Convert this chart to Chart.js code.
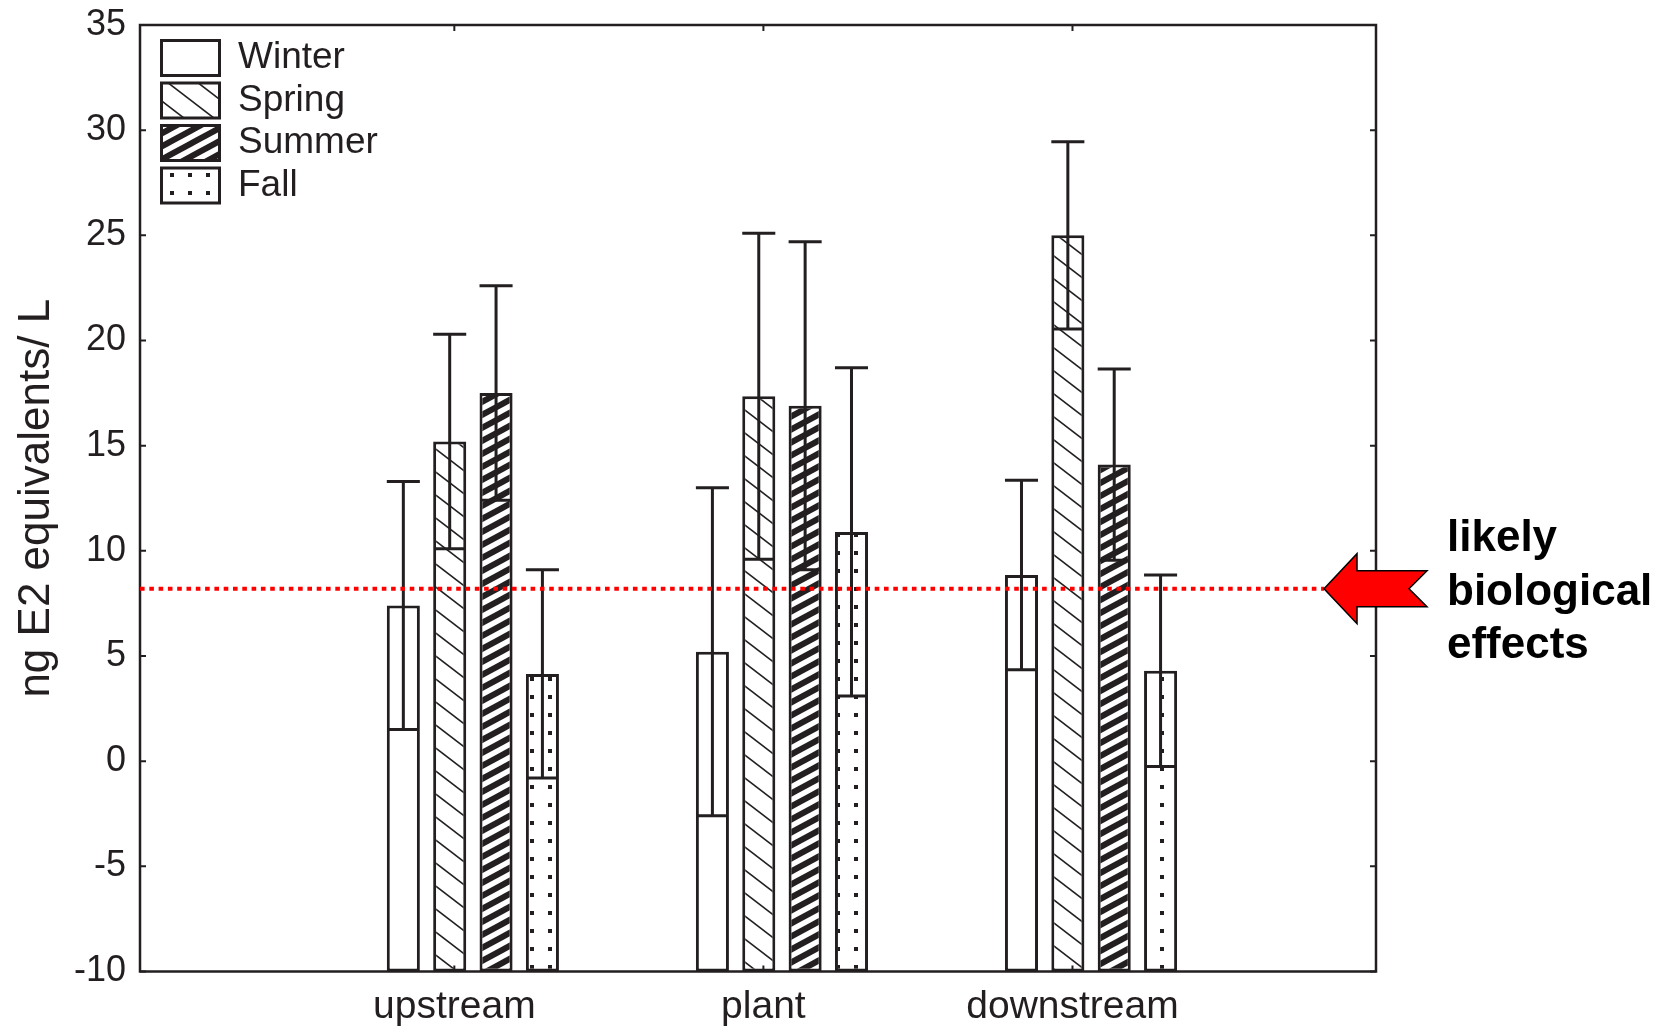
<!DOCTYPE html>
<html>
<head>
<meta charset="utf-8">
<script src="https://cdn.jsdelivr.net/npm/chart.js@4.4.1/dist/chart.umd.min.js"></script>
<style>
  html, body { margin: 0; padding: 0; background: #fff; }
</style>
</head>
<body>
<canvas id="chart" width="1670" height="1029"></canvas>
<script>
// sampling sites and seasons
const groups = ['upstream', 'plant', 'downstream'];
const groupPos = [1, 2, 3];
const seasons = ['Winter', 'Spring', 'Summer', 'Fall'];

// mean ± error (ng E2 equivalents / L)
const winterMean = [7.4, 5.2, 8.85];
const winterErr  = [5.9, 7.8, 4.5];
const springMean = [15.2, 17.35, 25.0];
const springErr  = [5.1, 7.75, 4.45];
const summerMean = [17.5, 16.9, 14.1];
const summerErr  = [5.1, 7.8, 4.55];
const fallMean   = [4.15, 10.9, 4.3];
const fallErr    = [4.95, 7.8, 4.55];

const threshold = 8.2;
const thresholdLabel = ['likely', 'biological', 'effects'];
const yTitle = 'ng E2 equivalents/ L';

const INK = '#231f20';
const FONT = "'Liberation Sans', Arial, Helvetica, sans-serif";
Chart.defaults.font.family = FONT;
Chart.defaults.color = INK;

// hatch fills
function makePattern(w, h, draw) {
  const c = document.createElement('canvas');
  c.width = w; c.height = h;
  const g = c.getContext('2d');
  g.fillStyle = '#fff';
  g.fillRect(0, 0, w, h);
  draw(g, w, h);
  return g.createPattern(c, 'repeat');
}
const springFill = makePattern(30, 23, (g, w, h) => {
  g.strokeStyle = INK; g.lineWidth = 1.6;
  for (let k = -1; k <= 1; k++) {
    g.beginPath(); g.moveTo(-w, -h + k * h); g.lineTo(2 * w, 2 * h + k * h); g.stroke();
  }
});
const summerFill = makePattern(24, 13, (g, w, h) => {
  g.strokeStyle = INK; g.lineWidth = 6;
  for (let k = -1; k <= 2; k++) {
    g.beginPath(); g.moveTo(-w, h + k * h); g.lineTo(2 * w, -2 * h + k * h); g.stroke();
  }
});
const fallFill = makePattern(18, 18, (g) => {
  g.fillStyle = INK;
  g.fillRect(8, 11, 4, 4);
});

function series(label, mean, err, fill) {
  return {
    label: label,
    data: groupPos.map((x, i) => ({ x: x, y: mean[i] })),
    errors: err,
    backgroundColor: fill,
    borderColor: INK,
    borderWidth: 3,
    borderSkipped: false,
    base: -10,
    categoryPercentage: 0.6,
    barPercentage: 0.713,
    order: 1
  };
}

// error whiskers, drawn right after each bar dataset
const errorBarPlugin = {
  id: 'errorBars',
  afterDatasetDraw(chart, args) {
    const ds = chart.data.datasets[args.index];
    if (!ds.errors) return;
    const { ctx, scales: { y } } = chart;
    ctx.save();
    ctx.strokeStyle = INK;
    ctx.lineWidth = 3;
    args.meta.data.forEach((bar, i) => {
      const m = ds.data[i].y, e = ds.errors[i];
      const hi = y.getPixelForValue(m + e);
      const lo = y.getPixelForValue(m - e);
      const half = bar.width / 2;
      ctx.beginPath();
      ctx.moveTo(bar.x, lo); ctx.lineTo(bar.x, hi);
      ctx.moveTo(bar.x - half, hi); ctx.lineTo(bar.x + half, hi);
      ctx.moveTo(bar.x - half + 1.5, lo); ctx.lineTo(bar.x + half - 1.5, lo);
      ctx.stroke();
    });
    ctx.restore();
  }
};

// box frame with inward ticks
const framePlugin = {
  id: 'frame',
  afterDatasetsDraw(chart) {
    const { ctx, chartArea: a, scales: { x, y } } = chart;
    ctx.save();
    ctx.strokeStyle = INK;
    ctx.lineWidth = 2.5;
    ctx.strokeRect(a.left, a.top, a.right - a.left, a.bottom - a.top);
    ctx.lineWidth = 2;
    ctx.beginPath();
    y.ticks.forEach(t => {
      const p = y.getPixelForValue(t.value);
      ctx.moveTo(a.left, p); ctx.lineTo(a.left + 6, p);
      ctx.moveTo(a.right, p); ctx.lineTo(a.right - 6, p);
    });
    x.ticks.forEach(t => {
      const p = x.getPixelForValue(t.value);
      ctx.moveTo(p, a.top); ctx.lineTo(p, a.top + 6);
      ctx.moveTo(p, a.bottom); ctx.lineTo(p, a.bottom - 6);
    });
    ctx.stroke();
    ctx.restore();
  }
};

// red dotted threshold + arrow + note
const thresholdPlugin = {
  id: 'threshold',
  afterDatasetsDraw(chart) {
    const { ctx, chartArea: a, scales: { y } } = chart;
    const yy = y.getPixelForValue(threshold);
    const tip = a.right - 52;
    ctx.save();
    ctx.strokeStyle = '#ff0000';
    ctx.lineWidth = 4;
    ctx.setLineDash([4.6, 4.7]);
    ctx.beginPath(); ctx.moveTo(a.left, yy); ctx.lineTo(tip, yy); ctx.stroke();
    ctx.setLineDash([]);

    const back = a.right - 19, tail = a.right + 51, notch = a.right + 33;
    ctx.beginPath();
    ctx.moveTo(tip, yy);
    ctx.lineTo(back, yy - 35);
    ctx.lineTo(back, yy - 18);
    ctx.lineTo(tail, yy - 18);
    ctx.lineTo(notch, yy);
    ctx.lineTo(tail, yy + 18);
    ctx.lineTo(back, yy + 18);
    ctx.lineTo(back, yy + 35);
    ctx.closePath();
    ctx.fillStyle = '#ff0000';
    ctx.fill();
    ctx.lineWidth = 1.5;
    ctx.strokeStyle = '#000';
    ctx.stroke();

    ctx.fillStyle = '#000';
    ctx.font = 'bold 44px ' + FONT;
    ctx.textAlign = 'left';
    ctx.textBaseline = 'alphabetic';
    thresholdLabel.forEach((t, i) => ctx.fillText(t, a.right + 71, yy + 16 + (i - 1) * 53.5));
    ctx.restore();
  }
};

// put the in-plot legend a little inside the frame
const legendShift = {
  id: 'legendShift',
  afterLayout(chart) {
    if (chart.legend) {
      chart.legend.left = chart.chartArea.left + 16;
      chart.legend.top = chart.chartArea.top + 9;
    }
  }
};

new Chart(document.getElementById('chart'), {
  type: 'bar',
  data: {
    datasets: [
      series(seasons[0], winterMean, winterErr, '#ffffff'),
      series(seasons[1], springMean, springErr, springFill),
      series(seasons[2], summerMean, summerErr, summerFill),
      series(seasons[3], fallMean, fallErr, fallFill)
    ]
  },
  options: {
    responsive: false,
    animation: false,
    layout: { padding: { top: 25, right: 294, bottom: 0, left: 0 } },
    plugins: {
      tooltip: { enabled: false },
      legend: {
        position: 'chartArea',
        align: 'start',
        labels: {
          boxWidth: 58,
          boxHeight: 35,
          padding: 5.5,
          color: INK,
          font: { size: 37 }
        }
      }
    },
    scales: {
      x: {
        type: 'linear',
        offset: false,
        min: -0.077,
        max: 3.922,
        grid: { display: false, drawTicks: false, offset: false },
        border: { display: false },
        afterBuildTicks: s => { s.ticks = groupPos.map(v => ({ value: v - 0.06 })); },
        afterFit: s => { s.height = 57.5; },
        ticks: {
          autoSkip: false,
          maxRotation: 0,
          padding: 12,
          color: INK,
          font: { size: 39 },
          callback: (v, i) => groups[i]
        }
      },
      y: {
        min: -10,
        max: 35,
        grid: { display: false, drawTicks: false },
        border: { display: false },
        afterFit: s => { s.width = 140; s.paddingTop = 0; s.paddingBottom = 0; },
        ticks: {
          stepSize: 5,
          padding: 14,
          color: INK,
          font: { size: 36 }
        },
        title: {
          display: true,
          text: yTitle,
          color: INK,
          font: { size: 44 },
          padding: { top: 10, bottom: 0 }
        }
      }
    }
  },
  plugins: [errorBarPlugin, framePlugin, thresholdPlugin, legendShift]
});
</script>
</body>
</html>
